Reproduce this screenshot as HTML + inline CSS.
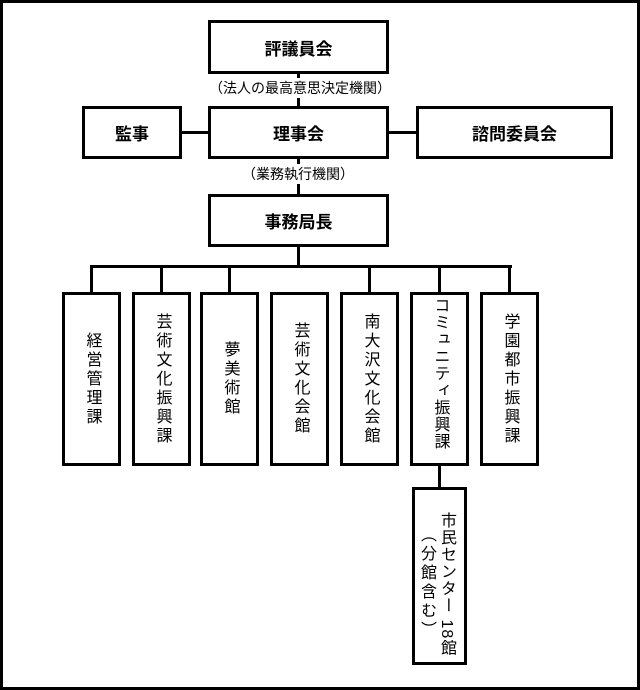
<!DOCTYPE html>
<html><head><meta charset="utf-8"><style>
body{margin:0;width:640px;height:690px;overflow:hidden;background:#fff;font-family:"Liberation Sans","Noto Sans CJK JP",sans-serif;}
.frame{position:absolute;left:0;top:0;width:634px;height:684px;border:3px solid #000;}
.b{position:absolute;border:3px solid #000;box-sizing:border-box;background:#fff;display:flex;align-items:center;justify-content:center;font-weight:bold;font-size:17px;}
.v{position:absolute;border:3px solid #000;box-sizing:border-box;background:#fff;display:flex;justify-content:center;font-size:16px;}
.v span{writing-mode:vertical-rl;line-height:22px;letter-spacing:3px;}
.l{position:absolute;background:#000;}
.t{position:absolute;font-size:14px;text-align:center;}
.c{position:absolute;writing-mode:vertical-rl;white-space:nowrap;font-size:16px;line-height:18px;}
</style></head><body>
<div class="frame"></div>
<div class="l" style="left:297px;top:70px;width:3px;height:130px"></div>
<div class="l" style="left:180px;top:131px;width:240px;height:3px"></div>
<div class="l" style="left:297px;top:240px;width:3px;height:28px"></div>
<div class="l" style="left:90px;top:265px;width:422px;height:3px"></div>
<div class="l" style="left:90px;top:265px;width:3px;height:30px"></div>
<div class="l" style="left:160px;top:265px;width:3px;height:30px"></div>
<div class="l" style="left:228px;top:265px;width:3px;height:30px"></div>
<div class="l" style="left:368px;top:265px;width:3px;height:30px"></div>
<div class="l" style="left:438px;top:265px;width:3px;height:30px"></div>
<div class="l" style="left:508px;top:265px;width:3px;height:30px"></div>
<div class="l" style="left:438px;top:460px;width:3px;height:30px"></div>
<div class="b" style="left:208px;top:20px;width:181px;height:54px">評議員会</div>
<div class="t" style="left:190px;top:78px;width:220px;background:#fff">（法人の最高意思決定機関）</div>
<div class="b" style="left:82px;top:106px;width:100px;height:53px">監事</div>
<div class="b" style="left:208px;top:106px;width:181px;height:53px">理事会</div>
<div class="b" style="left:416px;top:106px;width:197px;height:53px">諮問委員会</div>
<div class="t" style="left:228px;top:164px;width:140px;background:#fff">（業務執行機関）</div>
<div class="b" style="left:208px;top:194px;width:181px;height:53px">事務局長</div>
<div class="v" style="left:62px;top:292px;width:59px;height:174px;align-items:center"><span>経営管理課</span></div>
<div class="v" style="left:132px;top:292px;width:59px;height:174px;align-items:center"><span>芸術文化振興課</span></div>
<div class="v" style="left:200px;top:292px;width:59px;height:174px;align-items:center"><span>夢美術館</span></div>
<div class="v" style="left:270px;top:292px;width:59px;height:174px;align-items:center"><span>芸術文化会館</span></div>
<div class="v" style="left:340px;top:292px;width:59px;height:174px;align-items:center"><span>南大沢文化会館</span></div>
<div class="v" style="left:410px;top:292px;width:59px;height:174px;align-items:flex-start;padding-top:2px"><span style="letter-spacing:1px">コミュニティ振興課</span></div>
<div class="v" style="left:480px;top:292px;width:59px;height:174px;align-items:center"><span>学園都市振興課</span></div>
<div class="v" style="left:412px;top:487px;width:55px;height:178px"></div>
<div class="c" style="left:437px;top:512px;letter-spacing:1px">市民センター 18館</div>
<div class="c" style="left:417px;top:526px;letter-spacing:3px">（分館含む）</div>
</body></html>
